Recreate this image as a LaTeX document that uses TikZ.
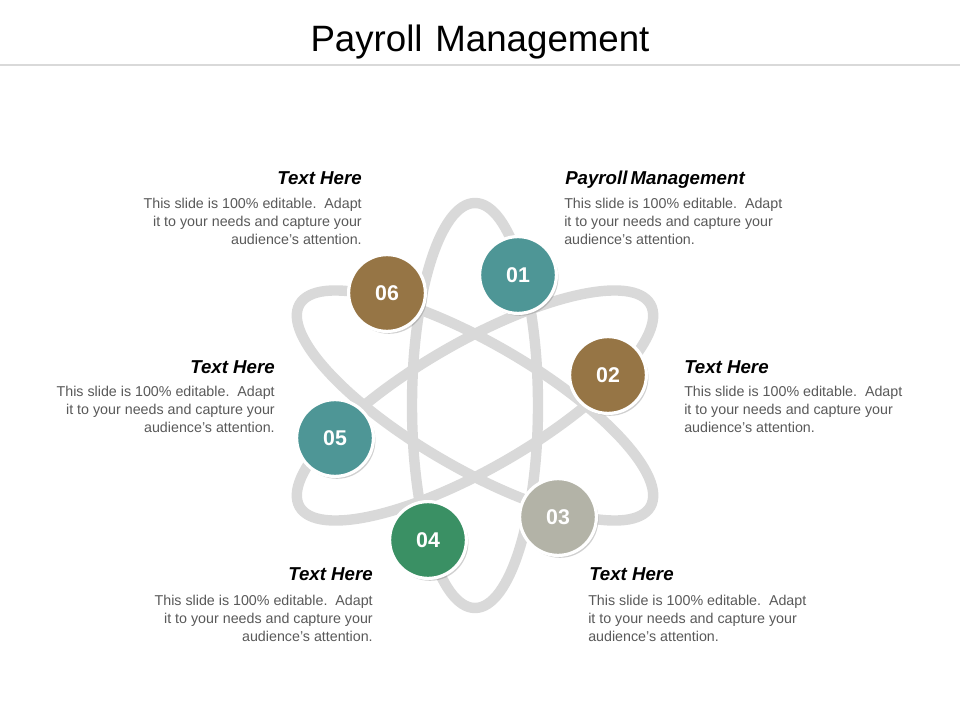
\documentclass[tikz,border=0pt]{standalone}
\usepackage{fontspec}
\setmainfont{Liberation Sans}
\usetikzlibrary{shadows}
\definecolor{orbit}{HTML}{D9D9D9}
\definecolor{cteal}{HTML}{4E9696}
\definecolor{cbrown}{HTML}{967545}
\definecolor{cgray}{HTML}{B3B3A7}
\definecolor{cgreen}{HTML}{3A9064}
\definecolor{bodygray}{HTML}{595959}
\definecolor{rulegray}{HTML}{D9D9D9}
\tikzset{
  orbitline/.style={draw=orbit, line width=7.8pt},
  numdisc/.style={circle, draw=white, line width=2.4pt, minimum size=57.6pt, inner sep=0pt,
     text=white, font=\fontsize{16}{18}\selectfont\bfseries,
     drop shadow={shadow xshift=1.5pt, shadow yshift=-1.8pt, opacity=0.3, fill=black!60}},
  head/.style={font=\fontsize{14}{16}\selectfont\bfseries\itshape, inner sep=0pt, text=black},
  bodytxt/.style={font=\fontsize{10.7}{13.5}\selectfont, inner sep=0pt, text=bodygray},
}
\begin{document}
\begin{tikzpicture}[x=0.75pt, y=-0.75pt]
\useasboundingbox (0,0) rectangle (960,720);
\fill[white] (0,0) rectangle (960,720);
% title
\node[font=\fontsize{27.5}{32}\selectfont, inner sep=0pt, anchor=base] (title) at (480,52) {Payroll\hspace{2pt} Management};
\draw[rulegray, line width=2pt] (0,65) -- (960,65);
% orbits
\foreach \a in {0,60,120} {
  \draw[orbitline, rotate around={\a:(475,405.5)}] (475,405.5) ellipse [x radius=63, y radius=202.5];
}
% discs
\node[numdisc, fill=cteal]  (n1) at (518,275) {01};
\node[numdisc, fill=cbrown] (n2) at (608,375) {02};
\node[numdisc, fill=cgray]  (n3) at (558,517) {03};
\node[numdisc, fill=cgreen] (n4) at (428,540) {04};
\node[numdisc, fill=cteal]  (n5) at (335,438) {05};
\node[numdisc, fill=cbrown] (n6) at (387,293) {06};
% text blocks
\node[head, anchor=base east] (h6) at (362,184.5) {Text Here};
\node[bodytxt, align=right, anchor=north east] (b6) at (362,198) {This slide is 100\% editable.\ \ Adapt\\it to your needs and capture your\\audience's attention.};
\node[head, anchor=base west] (h1) at (565,184.5) {Payroll\,Management};
\node[bodytxt, align=left, anchor=north west] (b1) at (564,198) {This slide is 100\% editable.\ \ Adapt\\it to your needs and capture your\\audience's attention.};
\node[head, anchor=base east] (h5) at (275,373.5) {Text Here};
\node[bodytxt, align=right, anchor=north east] (b5) at (275,386) {This slide is 100\% editable.\ \ Adapt\\it to your needs and capture your\\audience's attention.};
\node[head, anchor=base west] (h2) at (684,373.5) {Text Here};
\node[bodytxt, align=left, anchor=north west] (b2) at (684,386) {This slide is 100\% editable.\ \ Adapt\\it to your needs and capture your\\audience's attention.};
\node[head, anchor=base east] (h4) at (373,580.5) {Text Here};
\node[bodytxt, align=right, anchor=north east] (b4) at (373,595) {This slide is 100\% editable.\ \ Adapt\\it to your needs and capture your\\audience's attention.};
\node[head, anchor=base west] (h3) at (589,580.5) {Text Here};
\node[bodytxt, align=left, anchor=north west] (b3) at (588,595) {This slide is 100\% editable.\ \ Adapt\\it to your needs and capture your\\audience's attention.};
\end{tikzpicture}
\end{document}
